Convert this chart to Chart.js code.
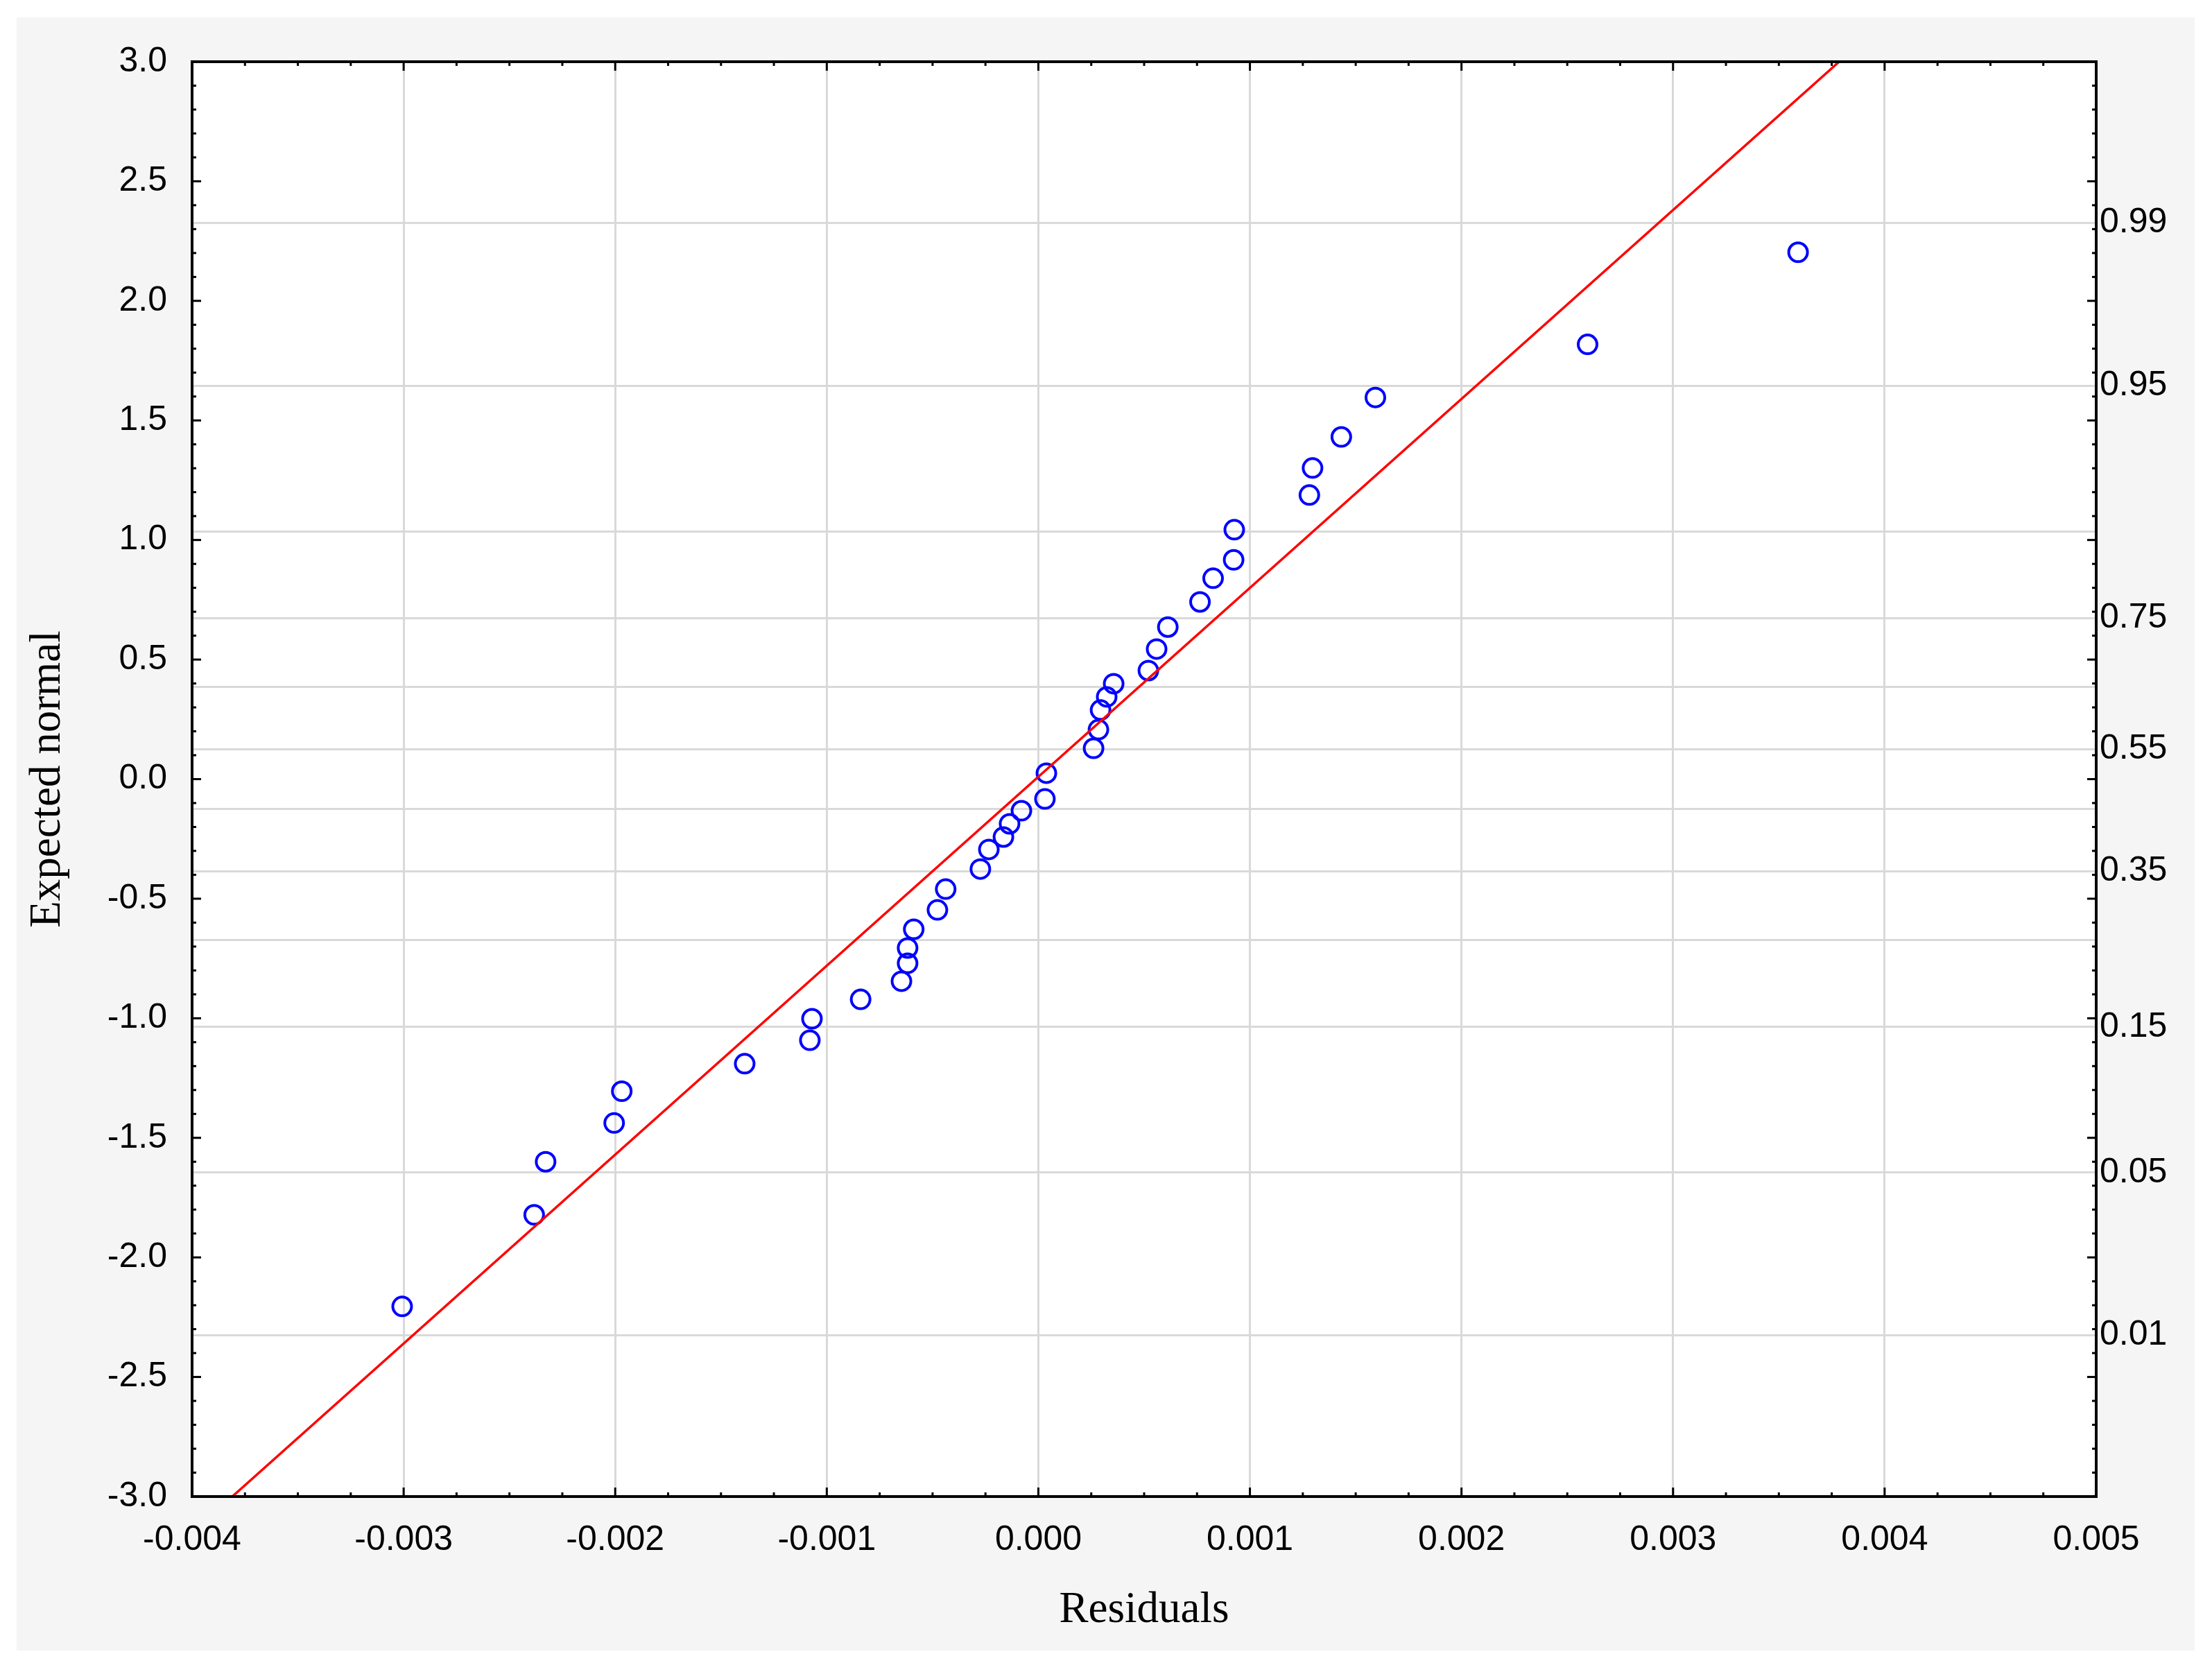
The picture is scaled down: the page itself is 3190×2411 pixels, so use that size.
<!DOCTYPE html>
<html>
<head>
<meta charset="utf-8">
<title>Normal probability plot of residuals</title>
<script src="https://cdn.jsdelivr.net/npm/chart.js@4/dist/chart.umd.min.js"></script>
<style>
    body { margin: 0; background: #ffffff; }
    canvas { display: block; }
</style>
</head>
<body>
<canvas id="myChart" width="3190" height="2411"></canvas>
<script>
// residuals (x) and expected normal values (y)
var residuals = [-0.003007, -0.002383, -0.002329, -0.002005, -0.001969, -0.001388, -0.001080, -0.001070,
    -0.000840, -0.000647, -0.000618, -0.000618, -0.000589, -0.000477, -0.000438, -0.000274, -0.000234,
    -0.000165, -0.000136, -0.000080, 0.000031, 0.000038, 0.000261, 0.000284, 0.000294, 0.000323, 0.000356,
    0.000520, 0.000559, 0.000612, 0.000764, 0.000826, 0.000923, 0.000926, 0.001281, 0.001296, 0.001432,
    0.001593, 0.002596, 0.003591];
var expectedNormal = [-2.205, -1.822, -1.600, -1.438, -1.305, -1.190, -1.092, -1.002,
    -0.921, -0.845, -0.770, -0.706, -0.628, -0.547, -0.460, -0.376, -0.294,
    -0.242, -0.187, -0.132, -0.083, 0.025, 0.129, 0.207, 0.289, 0.344, 0.399,
    0.454, 0.544, 0.636, 0.741, 0.840, 0.917, 1.043, 1.188, 1.301, 1.431,
    1.596, 1.818, 2.203];

// fitted reference line, end points where it leaves the plot
var lineX = [-0.00381, 0.003785];
var lineY = [-3, 3];

// right axis: cumulative probabilities and their z positions
var probZ = [-2.326, -1.645, -1.036, -0.674, -0.385, -0.126, 0.126, 0.385, 0.674, 1.036, 1.645, 2.326];
var probLabels = ['0.01', '0.05', '0.15', '', '0.35', '', '0.55', '', '0.75', '', '0.95', '0.99'];

var tickFont = { family: 'Liberation Sans', size: 50 };
var titleFont = { family: 'Liberation Serif', size: 63 };
var gridColor = '#d9d9d9';

function toPoints(xs, ys) {
    var pts = [];
    for (var i = 0; i < xs.length; i++) {
        pts.push({ x: xs[i], y: ys[i] });
    }
    return pts;
}

function drawLine(ctx, x1, y1, x2, y2) {
    ctx.beginPath();
    ctx.moveTo(x1, y1);
    ctx.lineTo(x2, y2);
    ctx.stroke();
}

// grey page, white plot, black frame with inward ticks
var framePlugin = {
    id: 'frame',
    beforeDraw: function (chart) {
        var ctx = chart.ctx;
        var a = chart.chartArea;
        ctx.save();
        ctx.fillStyle = '#ffffff';
        ctx.fillRect(0, 0, chart.width, chart.height);
        ctx.fillStyle = '#f5f5f5';
        ctx.fillRect(24, 25, 3141, 2355);
        ctx.fillStyle = '#ffffff';
        ctx.fillRect(a.left, a.top, a.right - a.left, a.bottom - a.top);
        ctx.restore();
    },
    afterDraw: function (chart) {
        var ctx = chart.ctx;
        var a = chart.chartArea;
        var sx = chart.scales.x;
        var sy = chart.scales.y;
        ctx.save();
        ctx.strokeStyle = '#000000';
        ctx.lineWidth = 3;
        for (var i = 0; i <= 36; i++) {
            var px = sx.getPixelForValue(-0.004 + i * 0.00025);
            var len = (i % 4 === 0) ? 13 : 6;
            drawLine(ctx, px, a.bottom, px, a.bottom - len);
            drawLine(ctx, px, a.top, px, a.top + len);
        }
        for (var j = 0; j <= 60; j++) {
            var py = sy.getPixelForValue(-3 + j * 0.1);
            var l = (j % 5 === 0) ? 13 : 6;
            drawLine(ctx, a.left, py, a.left + l, py);
            drawLine(ctx, a.right, py, a.right - l, py);
        }
        ctx.lineWidth = 4;
        ctx.strokeRect(a.left, a.top, a.right - a.left, a.bottom - a.top);
        ctx.restore();
    }
};

function createChart() {
    const config = {
        type: 'scatter',
        data: {
            datasets: [
                {
                    label: 'Fit',
                    type: 'line',
                    data: toPoints(lineX, lineY),
                    borderColor: '#ff0000',
                    borderWidth: 3.5,
                    pointRadius: 0,
                    fill: false
                },
                {
                    label: 'Residuals',
                    data: toPoints(residuals, expectedNormal),
                    pointStyle: 'circle',
                    pointRadius: 13.5,
                    pointHoverRadius: 13.5,
                    borderWidth: 4,
                    borderColor: '#0000ff',
                    backgroundColor: 'rgba(0,0,0,0)'
                }
            ]
        },
        options: {
            responsive: false,
            devicePixelRatio: 1,
            animation: false,
            layout: { padding: { top: 89, left: 0, right: 0, bottom: 0 } },
            plugins: {
                legend: { display: false },
                tooltip: { enabled: false }
            },
            scales: {
                x: {
                    type: 'linear',
                    position: 'bottom',
                    min: -0.004,
                    max: 0.005,
                    ticks: {
                        stepSize: 0.001,
                        autoSkip: false,
                        maxRotation: 0,
                        padding: 33,
                        color: '#000000',
                        font: tickFont,
                        callback: function (v) { return Number(v).toFixed(3); }
                    },
                    grid: { color: gridColor, lineWidth: 3, drawTicks: false },
                    border: { display: false },
                    title: {
                        display: true,
                        text: 'Residuals',
                        color: '#000000',
                        font: titleFont,
                        padding: { top: 0, bottom: 51 }
                    },
                    afterFit: function (s) { s.height = 253; }
                },
                y: {
                    type: 'linear',
                    position: 'left',
                    min: -3,
                    max: 3,
                    ticks: {
                        stepSize: 0.5,
                        autoSkip: false,
                        padding: 36,
                        color: '#000000',
                        font: tickFont,
                        callback: function (v) { return Number(v).toFixed(1); }
                    },
                    grid: { display: false, drawTicks: false },
                    border: { display: false },
                    title: {
                        display: true,
                        text: 'Expected normal',
                        color: '#000000',
                        font: titleFont,
                        padding: { top: 32, bottom: 0 }
                    },
                    afterFit: function (s) { s.width = 277; }
                },
                y2: {
                    type: 'linear',
                    axis: 'y',
                    position: 'right',
                    min: -3,
                    max: 3,
                    afterBuildTicks: function (s) {
                        s.ticks = probZ.map(function (v) { return { value: v }; });
                    },
                    ticks: {
                        autoSkip: false,
                        padding: 5,
                        color: '#000000',
                        font: tickFont,
                        callback: function (v, index) { return probLabels[index]; }
                    },
                    grid: { color: gridColor, lineWidth: 3, drawTicks: false },
                    border: { display: false },
                    afterFit: function (s) { s.width = 167; }
                }
            }
        },
        plugins: [framePlugin]
    };

    const ctx = document.getElementById('myChart');
    new Chart(ctx, config);
}

createChart();
</script>
</body>
</html>
